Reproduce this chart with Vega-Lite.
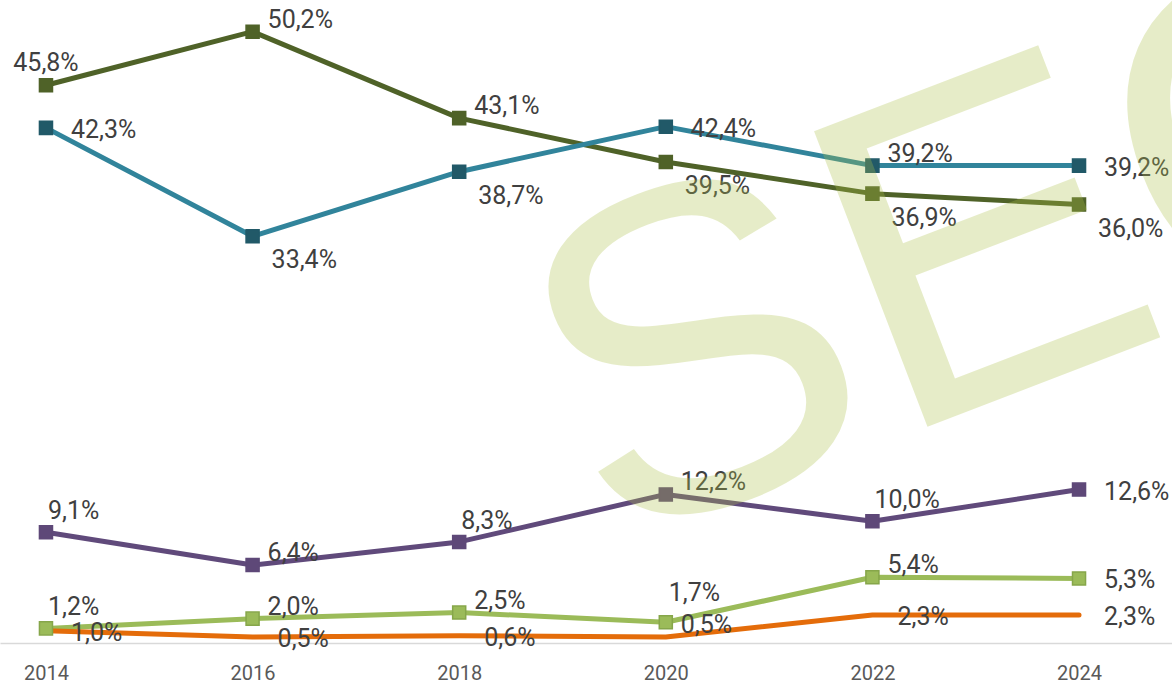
{
  "$schema": "https://vega.github.io/schema/vega-lite/v6.json",
  "width": 1172,
  "height": 643,
  "autosize": {"type": "none"},
  "padding": {"left": 0, "top": 0, "right": 0, "bottom": 44},
  "background": "white",
  "config": {
    "view": {"stroke": null},
    "locale": {"number": {"decimal": ",", "thousands": ".", "grouping": [3], "currency": ["", " €"]}}
  },
  "data": {
    "values": [
      {"series": "A", "year": 2014, "share": 0.458},
      {"series": "A", "year": 2016, "share": 0.502},
      {"series": "A", "year": 2018, "share": 0.431},
      {"series": "A", "year": 2020, "share": 0.395},
      {"series": "A", "year": 2022, "share": 0.369},
      {"series": "A", "year": 2024, "share": 0.360},
      {"series": "B", "year": 2014, "share": 0.423},
      {"series": "B", "year": 2016, "share": 0.334},
      {"series": "B", "year": 2018, "share": 0.387},
      {"series": "B", "year": 2020, "share": 0.424},
      {"series": "B", "year": 2022, "share": 0.392},
      {"series": "B", "year": 2024, "share": 0.392},
      {"series": "C", "year": 2014, "share": 0.091},
      {"series": "C", "year": 2016, "share": 0.064},
      {"series": "C", "year": 2018, "share": 0.083},
      {"series": "C", "year": 2020, "share": 0.122},
      {"series": "C", "year": 2022, "share": 0.100},
      {"series": "C", "year": 2024, "share": 0.126},
      {"series": "D", "year": 2014, "share": 0.012},
      {"series": "D", "year": 2016, "share": 0.020},
      {"series": "D", "year": 2018, "share": 0.025},
      {"series": "D", "year": 2020, "share": 0.017},
      {"series": "D", "year": 2022, "share": 0.054},
      {"series": "D", "year": 2024, "share": 0.053},
      {"series": "E", "year": 2014, "share": 0.010},
      {"series": "E", "year": 2016, "share": 0.005},
      {"series": "E", "year": 2018, "share": 0.006},
      {"series": "E", "year": 2020, "share": 0.005},
      {"series": "E", "year": 2022, "share": 0.023},
      {"series": "E", "year": 2024, "share": 0.023}
    ]
  },
  "layer": [
    {
      "mark": {"type": "line", "strokeWidth": 5, "strokeCap": "round", "strokeJoin": "round"},
      "encoding": {
        "x": {
          "field": "year", "type": "quantitative",
          "scale": {"domain": [2013.555, 2024.9], "nice": false, "zero": false},
          "axis": {
            "title": null, "values": [2014, 2016, 2018, 2020, 2022, 2024], "format": "d",
            "grid": false, "ticks": false, "domainColor": "#D9D9D9", "domainWidth": 1.5,
            "labelFont": "Roboto", "labelFontSize": 20, "labelColor": "#595959",
            "labelPadding": 20, "labelFlush": false, "labelOverlap": false
          }
        },
        "y": {
          "field": "share", "type": "quantitative",
          "scale": {"domain": [0, 0.528], "nice": false},
          "axis": null
        },
        "color": {
          "field": "series", "type": "nominal", "legend": null,
          "scale": {"domain": ["E", "D", "C", "B", "A"], "range": ["#E46C0A", "#9BBB59", "#604A7B", "#31849B", "#4F6228"]}
        }
      }
    },
    {
      "transform": [{"filter": "datum.series != 'E'"}],
      "mark": {"type": "point", "shape": "square", "filled": true, "size": 170, "opacity": 1, "strokeWidth": 1.5},
      "encoding": {
        "x": {"field": "year", "type": "quantitative"},
        "y": {"field": "share", "type": "quantitative"},
        "fill": {
          "field": "series", "type": "nominal", "legend": null,
          "scale": {"domain": ["D", "C", "B", "A"], "range": ["#9BBB59", "#5E4878", "#215968", "#4F6228"]}
        },
        "stroke": {
          "field": "series", "type": "nominal", "legend": null,
          "scale": {"domain": ["D", "C", "B", "A"], "range": ["#86A64A", "#5E4878", "#215968", "#4F6228"]}
        }
      }
    },
    {
      "transform": [{"filter": "indexof(['A2014'], datum.series + datum.year) >= 0"}],
      "mark": {"type": "text", "align": "center", "baseline": "middle", "dx": 0, "dy": -22, "font": "Roboto", "fontSize": 25, "color": "#404040"},
      "encoding": {
        "x": {"field": "year", "type": "quantitative"},
        "y": {"field": "share", "type": "quantitative"},
        "text": {"field": "share", "type": "quantitative", "format": ".1%"}
      }
    },
    {
      "transform": [{"filter": "indexof(['B2014','B2020','B2024','C2024','D2024','E2014','E2016','E2018','E2022','E2024'], datum.series + datum.year) >= 0"}],
      "mark": {"type": "text", "align": "left", "baseline": "middle", "dx": 25, "dy": 2, "font": "Roboto", "fontSize": 25, "color": "#404040"},
      "encoding": {
        "x": {"field": "year", "type": "quantitative"},
        "y": {"field": "share", "type": "quantitative"},
        "text": {"field": "share", "type": "quantitative", "format": ".1%"}
      }
    },
    {
      "transform": [{"filter": "indexof(['A2020','A2022','A2024','B2016','B2018'], datum.series + datum.year) >= 0"}],
      "mark": {"type": "text", "align": "left", "baseline": "middle", "dx": 19, "dy": 24, "font": "Roboto", "fontSize": 25, "color": "#404040"},
      "encoding": {
        "x": {"field": "year", "type": "quantitative"},
        "y": {"field": "share", "type": "quantitative"},
        "text": {"field": "share", "type": "quantitative", "format": ".1%"}
      }
    },
    {
      "transform": [{"filter": "indexof(['A2016','A2018','B2022','C2016','C2020','D2016','D2018','D2022','E2020'], datum.series + datum.year) >= 0"}],
      "mark": {"type": "text", "align": "left", "baseline": "middle", "dx": 15, "dy": -12, "font": "Roboto", "fontSize": 25, "color": "#404040"},
      "encoding": {
        "x": {"field": "year", "type": "quantitative"},
        "y": {"field": "share", "type": "quantitative"},
        "text": {"field": "share", "type": "quantitative", "format": ".1%"}
      }
    },
    {
      "transform": [{"filter": "indexof(['C2014','C2018','C2022','D2014'], datum.series + datum.year) >= 0"}],
      "mark": {"type": "text", "align": "left", "baseline": "middle", "dx": 2, "dy": -21, "font": "Roboto", "fontSize": 25, "color": "#404040"},
      "encoding": {
        "x": {"field": "year", "type": "quantitative"},
        "y": {"field": "share", "type": "quantitative"},
        "text": {"field": "share", "type": "quantitative", "format": ".1%"}
      }
    },
    {
      "transform": [{"filter": "indexof(['D2020'], datum.series + datum.year) >= 0"}],
      "mark": {"type": "text", "align": "left", "baseline": "middle", "dx": 3, "dy": -29, "font": "Roboto", "fontSize": 25, "color": "#404040"},
      "encoding": {
        "x": {"field": "year", "type": "quantitative"},
        "y": {"field": "share", "type": "quantitative"},
        "text": {"field": "share", "type": "quantitative", "format": ".1%"}
      }
    },
    {
      "data": {"values": [{"watermark": "SEO", "year": 2023.33, "share": 0.325}]},
      "mark": {"type": "text", "align": "center", "baseline": "middle", "angle": -21, "font": "Liberation Sans", "fontSize": 460, "fill": "#ACC048", "fillOpacity": 0.3},
      "encoding": {
        "x": {"field": "year", "type": "quantitative"},
        "y": {"field": "share", "type": "quantitative"},
        "text": {"field": "watermark", "type": "nominal"}
      }
    }
  ]
}
